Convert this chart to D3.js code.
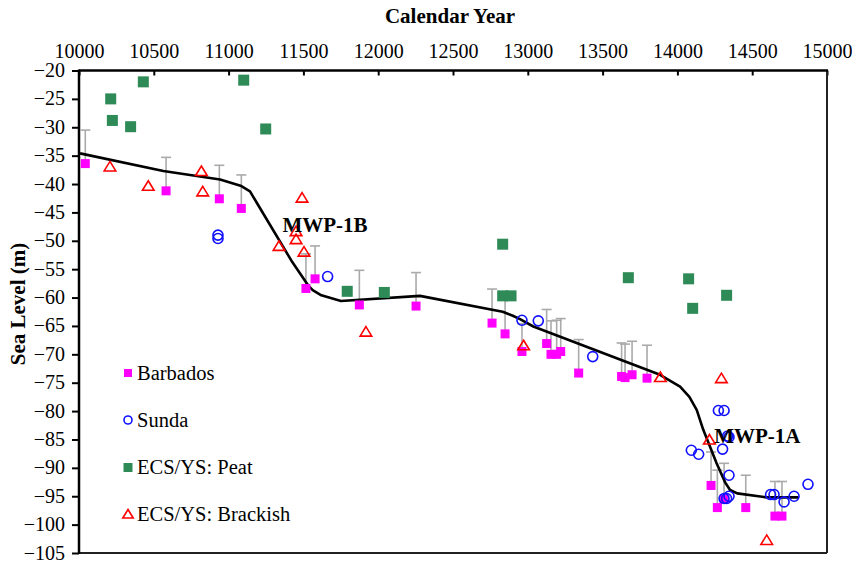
<!DOCTYPE html>
<html><head><meta charset="utf-8">
<script src="https://cdn.jsdelivr.net/npm/d3@7"></script>
<style>body{margin:0;background:#fff}svg{display:block}svg text{font-family:"Liberation Serif","Times New Roman",Times,"DejaVu Serif",serif !important}</style>
</head><body><svg id="c" width="852" height="562"></svg>
<script>
const xTicks = [10000,10500,11000,11500,12000,12500,13000,13500,14000,14500,15000];
const yTicks = [-20,-25,-30,-35,-40,-45,-50,-55,-60,-65,-70,-75,-80,-85,-90,-95,-100,-105];

const barbadosYear  = [10042,10582,10938,11085,11517,11578,11874,12253,12761,12848,12961,13126,13155,13193,13220,13340,13627,13650,13697,13797,14225,14267,14312,14457,14652,14699];
const barbadosLevel = [-36.4,-41.2,-42.6,-44.3,-58.4,-56.7,-61.3,-61.5,-64.5,-66.4,-69.5,-68.1,-70.0,-70.0,-69.5,-73.3,-73.9,-74.1,-73.6,-74.2,-93.1,-97.0,-95.5,-97.0,-98.5,-98.5];
const barbadosTop   = [-30.5,-35.3,-36.7,-38.4,-52.3,-50.9,-55.2,-55.6,-58.5,-60.4,-64.6,-62.1,-64.1,-64.0,-63.7,-67.4,-68.0,-68.2,-67.7,-68.4,-87.2,-90.4,-89.2,-91.3,-92.4,-92.4];

const sundaYear  = [10929,10929,11662,12961,13070,13434,14093,14142,14274,14312,14302,14336,14345,14345,14312,14329,14345,14623,14646,14713,14780,14873];
const sundaLevel = [-49.0,-49.6,-56.3,-64.0,-64.1,-70.4,-86.9,-87.6,-79.9,-79.9,-86.7,-84.4,-84.6,-91.3,-95.4,-95.4,-95.0,-94.7,-94.7,-96.0,-95.0,-92.9];

const peatYear  = [10212,10223,10345,10430,11101,11248,11793,12041,12832,12832,12888,13672,14075,14102,14329];
const peatLevel = [-25.0,-28.8,-29.9,-22.0,-21.7,-30.3,-58.9,-59.1,-50.6,-59.7,-59.7,-56.5,-56.7,-61.9,-59.6];

const brackYear  = [10207,10463,10818,10827,11337,11451,11451,11491,11504,11918,12972,13886,14214,14294,14597];
const brackLevel = [-36.9,-40.3,-37.7,-41.3,-50.9,-48.3,-49.7,-42.4,-51.9,-66.0,-68.4,-74.0,-85.0,-74.2,-102.7];

const curveYear  = [10007,10564,10943,11080,11143,11420,11530,11562,11620,11751,12279,12832,12900,12948,13037,13884,14018,14080,14129,14173,14262,14320,14352,14400,14597,14809];
const curveLevel = [-34.6,-37.7,-39.2,-40.3,-41.3,-53.5,-57.8,-58.7,-59.6,-60.6,-59.7,-62.5,-63.2,-63.8,-65.1,-73.6,-75.7,-77.5,-79.8,-83.3,-89.2,-92.6,-93.9,-94.5,-95.2,-95.2];

const legendLabels = ["Barbados","Sunda","ECS/YS: Peat","ECS/YS: Brackish"];
const annotations = [{t:"MWP-1B",year:11360,level:-48.5},{t:"MWP-1A",year:14246,level:-85.6}];

const svg = d3.select("#c");
const L=79,R=827,T=70.5,B=553;
const x = d3.scaleLinear([10000,15000],[L,R]);
const y = d3.scaleLinear([-20,-105],[T,B]);
const FF = '"Liberation Serif","Times New Roman",Times,"DejaVu Serif",serif';

// axes
const gx = svg.append("g").attr("transform",`translate(0,${T})`)
  .call(d3.axisTop(x).tickValues(xTicks).tickFormat(d3.format("d")).tickSizeInner(-5).tickSizeOuter(0).tickPadding(13));
gx.attr("font-family",FF);
gx.select(".domain").remove();
gx.selectAll(".tick line").attr("stroke","#000").attr("stroke-width",2);
gx.selectAll("text").attr("font-size",20).attr("fill","#000");

const gy = svg.append("g").attr("transform",`translate(${L},0)`)
  .call(d3.axisLeft(y).tickValues(yTicks).tickSizeInner(7).tickSizeOuter(0).tickPadding(7));
gy.attr("font-family",FF);
gy.select(".domain").remove();
gy.selectAll(".tick line").attr("stroke","#000").attr("stroke-width",2);
gy.selectAll("text").attr("font-size",20).attr("fill","#000").attr("dy","0.3em");

// frame
svg.append("line").attr("x1",R).attr("x2",R).attr("y1",T).attr("y2",B).attr("stroke","#222").attr("stroke-width",2);
svg.append("line").attr("x1",L).attr("x2",R).attr("y1",B).attr("y2",B).attr("stroke","#222").attr("stroke-width",2);
svg.append("line").attr("x1",L).attr("x2",R+1).attr("y1",T).attr("y2",T).attr("stroke","#000").attr("stroke-width",2.5);
svg.append("line").attr("x1",L).attr("x2",L).attr("y1",T-1).attr("y2",B+1).attr("stroke","#000").attr("stroke-width",2.5);

// titles
svg.append("text").attr("x",450).attr("y",23).attr("text-anchor","middle").attr("font-size",21).attr("font-weight","bold").text("Calendar Year");
svg.append("text").attr("transform","translate(25,304) rotate(-90)").attr("text-anchor","middle").attr("font-size",21).attr("font-weight","bold").text("Sea Level (m)");

// error bars
const eb = svg.append("g").attr("stroke","#aaa").attr("stroke-width",1.6);
barbadosYear.forEach((yr,i)=>{
  const cx=x(yr), y0=y(barbadosLevel[i]), y1=y(barbadosTop[i]);
  eb.append("line").attr("x1",cx).attr("x2",cx).attr("y1",y0).attr("y2",y1);
  eb.append("line").attr("x1",cx-5).attr("x2",cx+5).attr("y1",y1).attr("y2",y1);
});

// curve
const line = d3.line().x(d=>x(d[0])).y(d=>y(d[1])).curve(d3.curveLinear);
svg.append("path").attr("d",line(curveYear.map((v,i)=>[v,curveLevel[i]]))).attr("fill","none").attr("stroke","#000").attr("stroke-width",2.6).attr("stroke-linejoin","round");

// markers
const sq=(g,cx,cy,s,c)=>g.append("rect").attr("x",cx-s/2).attr("y",cy-s/2).attr("width",s).attr("height",s).attr("fill",c);
const circ=(g,cx,cy,r)=>g.append("circle").attr("cx",cx).attr("cy",cy).attr("r",r).attr("fill","none").attr("stroke","#1010ff").attr("stroke-width",1.6);
const tri=(g,cx,cy,s)=>g.append("path").attr("d",`M${cx},${cy-s*0.5}L${cx+s*0.58},${cy+s*0.45}L${cx-s*0.58},${cy+s*0.45}Z`).attr("fill","none").attr("stroke","#ff0000").attr("stroke-width",1.6);

const gm = svg.append("g");
barbadosYear.forEach((yr,i)=>sq(gm,x(yr),y(barbadosLevel[i]),9,"#ff00ff"));
sundaYear.forEach((yr,i)=>circ(gm,x(yr),y(sundaLevel[i]),5));
peatYear.forEach((yr,i)=>sq(gm,x(yr),y(peatLevel[i]),11,"#2e8b57"));
brackYear.forEach((yr,i)=>tri(gm,x(yr),y(brackLevel[i]),10));

// annotations
annotations.forEach(a=>svg.append("text").attr("x",x(a.year)).attr("y",y(a.level)).attr("font-size",21).attr("font-weight","bold").text(a.t));

// legend
const lg = svg.append("g");
const ly=[373,420,467.5,514];
sq(lg,128,ly[0],8,"#ff00ff");
circ(lg,128,ly[1],4);
sq(lg,128,ly[2],9,"#2e8b57");
tri(lg,128,ly[3],9);
legendLabels.forEach((t,i)=>lg.append("text").attr("x",137).attr("y",ly[i]+6.5).attr("font-size",20.5).text(t));
</script></body></html>
